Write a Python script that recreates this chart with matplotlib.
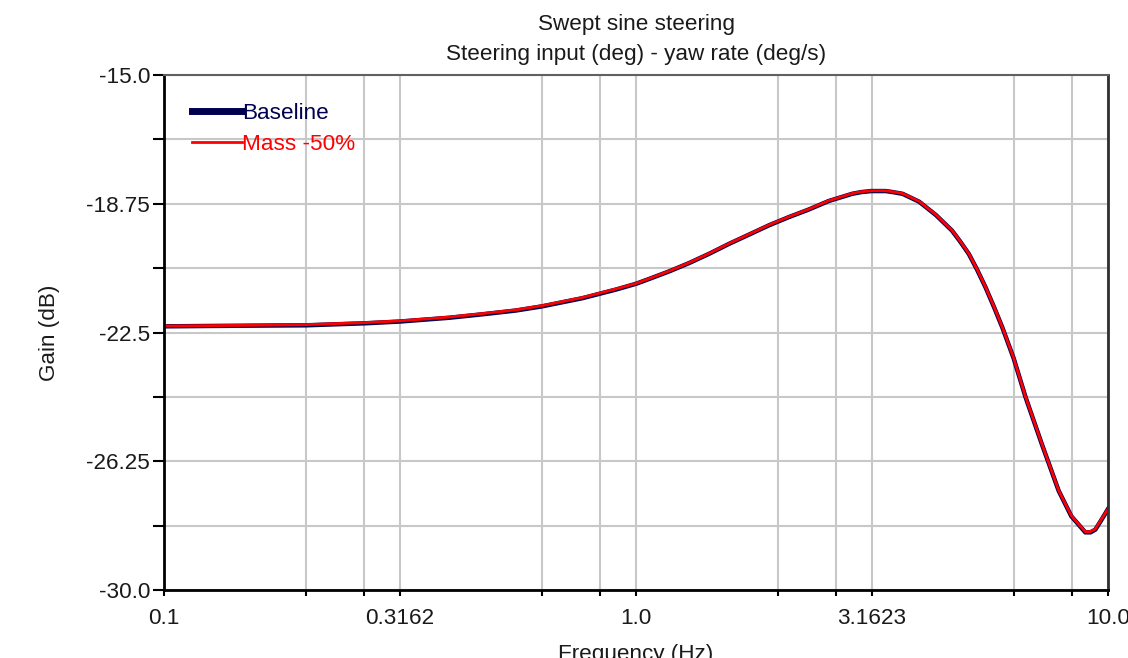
import matplotlib
matplotlib.use("Agg")
import matplotlib.pyplot as plt

plt.rcParams["font.family"] = ["Liberation Sans", "DejaVu Sans"]

# Frequency response (Hz, dB)
freq_hz = [0.1, 0.151, 0.2, 0.268, 0.316, 0.402, 0.472, 0.556, 0.631, 0.77,
           0.906, 1.0, 1.066, 1.175, 1.294, 1.427, 1.573, 1.734, 1.911, 2.106,
           2.32, 2.56, 2.87, 3.0, 3.15, 3.38, 3.5, 3.67, 3.98, 4.32,
           4.67, 4.85, 5.07, 5.28, 5.5, 5.73, 5.97, 6.31, 6.69, 7.24,
           7.86, 8.12, 8.36, 8.67, 8.95, 9.18, 9.4, 9.69, 10.0]
baseline_db = [-22.32, -22.30, -22.29, -22.23, -22.18, -22.07, -21.97, -21.86, -21.74, -21.50,
               -21.25, -21.08, -20.94, -20.72, -20.48, -20.21, -19.92, -19.65, -19.38, -19.14,
               -18.92, -18.67, -18.46, -18.41, -18.38, -18.38, -18.41, -18.46, -18.69, -19.08,
               -19.53, -19.83, -20.21, -20.67, -21.18, -21.75, -22.35, -23.25, -24.39, -25.75,
               -27.11, -27.50, -27.85, -28.10, -28.32, -28.32, -28.24, -27.95, -27.64]
mass50_db = [-22.31, -22.29, -22.27, -22.21, -22.16, -22.05, -21.95, -21.84, -21.72, -21.48,
             -21.23, -21.07, -20.93, -20.71, -20.47, -20.20, -19.91, -19.64, -19.37, -19.13,
             -18.91, -18.66, -18.45, -18.40, -18.37, -18.37, -18.40, -18.45, -18.68, -19.07,
             -19.52, -19.82, -20.20, -20.66, -21.17, -21.74, -22.34, -23.24, -24.38, -25.74,
             -27.10, -27.49, -27.83, -28.09, -28.30, -28.30, -28.22, -27.93, -27.64]

x_major = [0.1, 0.3162, 1.0, 3.1623, 10.0]
x_major_labels = ["0.1", "0.3162", "1.0", "3.1623", "10.0"]
x_minor = [0.2, 0.2655, 0.6325, 0.8395, 2.0, 2.655, 6.325, 8.395]
y_ticks = [-15.0, -16.875, -18.75, -20.625, -22.5, -24.375, -26.25, -28.125, -30.0]
y_labels = ["-15.0", "", "-18.75", "", "-22.5", "", "-26.25", "", "-30.0"]

FS = 16.2
TXT = "#1a1a1a"
fig = plt.figure(figsize=(11.28, 6.58), dpi=100)
ax = fig.add_axes([0.1454, 0.1033, 0.8369, 0.7827])

ax.plot(freq_hz, baseline_db, color="#000050", linewidth=3.2, label="Baseline")
ax.plot(freq_hz, mass50_db, color="#ff0000", linewidth=2.0, label="Mass -50%")

ax.set_xscale("log")
ax.set_xlim(0.1, 10.0)
ax.set_ylim(-30.0, -15.0)
ax.set_xticks(x_major)
ax.set_xticklabels(x_major_labels)
ax.set_xticks(x_minor, minor=True)
ax.set_xticklabels([], minor=True)
ax.set_yticks(y_ticks)
ax.set_yticklabels(y_labels)

ax.grid(True, which="both", color="#c8c8c8", linewidth=1.5)
ax.set_axisbelow(True)
ax.tick_params(axis="x", which="both", direction="out", length=4, width=1.5,
               labelsize=FS, pad=9, labelcolor=TXT)
ax.tick_params(axis="y", direction="out", length=8, width=1.5, labelsize=FS, pad=2,
               labelcolor=TXT)

for side in ("left", "bottom"):
    ax.spines[side].set_linewidth(2)
    ax.spines[side].set_color("black")
ax.spines["top"].set_color("#606060")
ax.spines["top"].set_linewidth(1.5)
ax.spines["right"].set_color("#303030")
ax.spines["right"].set_linewidth(2)

ax.set_title("Swept sine steering\nSteering input (deg) - yaw rate (deg/s)",
             fontsize=FS, pad=11, linespacing=1.55, color=TXT)
ax.set_xlabel("Frequency (Hz)", fontsize=FS, labelpad=11, color=TXT)
ax.set_ylabel("Gain (dB)", fontsize=FS, labelpad=19, color=TXT)

leg = ax.legend(loc="upper left", frameon=False, fontsize=FS, handlelength=2.2,
                handletextpad=0.0, labelspacing=0.42, borderaxespad=0.5,
                borderpad=0.75, labelcolor="linecolor")
leg.get_lines()[0].set_linewidth(5)

fig.savefig("out.png", dpi=100)
